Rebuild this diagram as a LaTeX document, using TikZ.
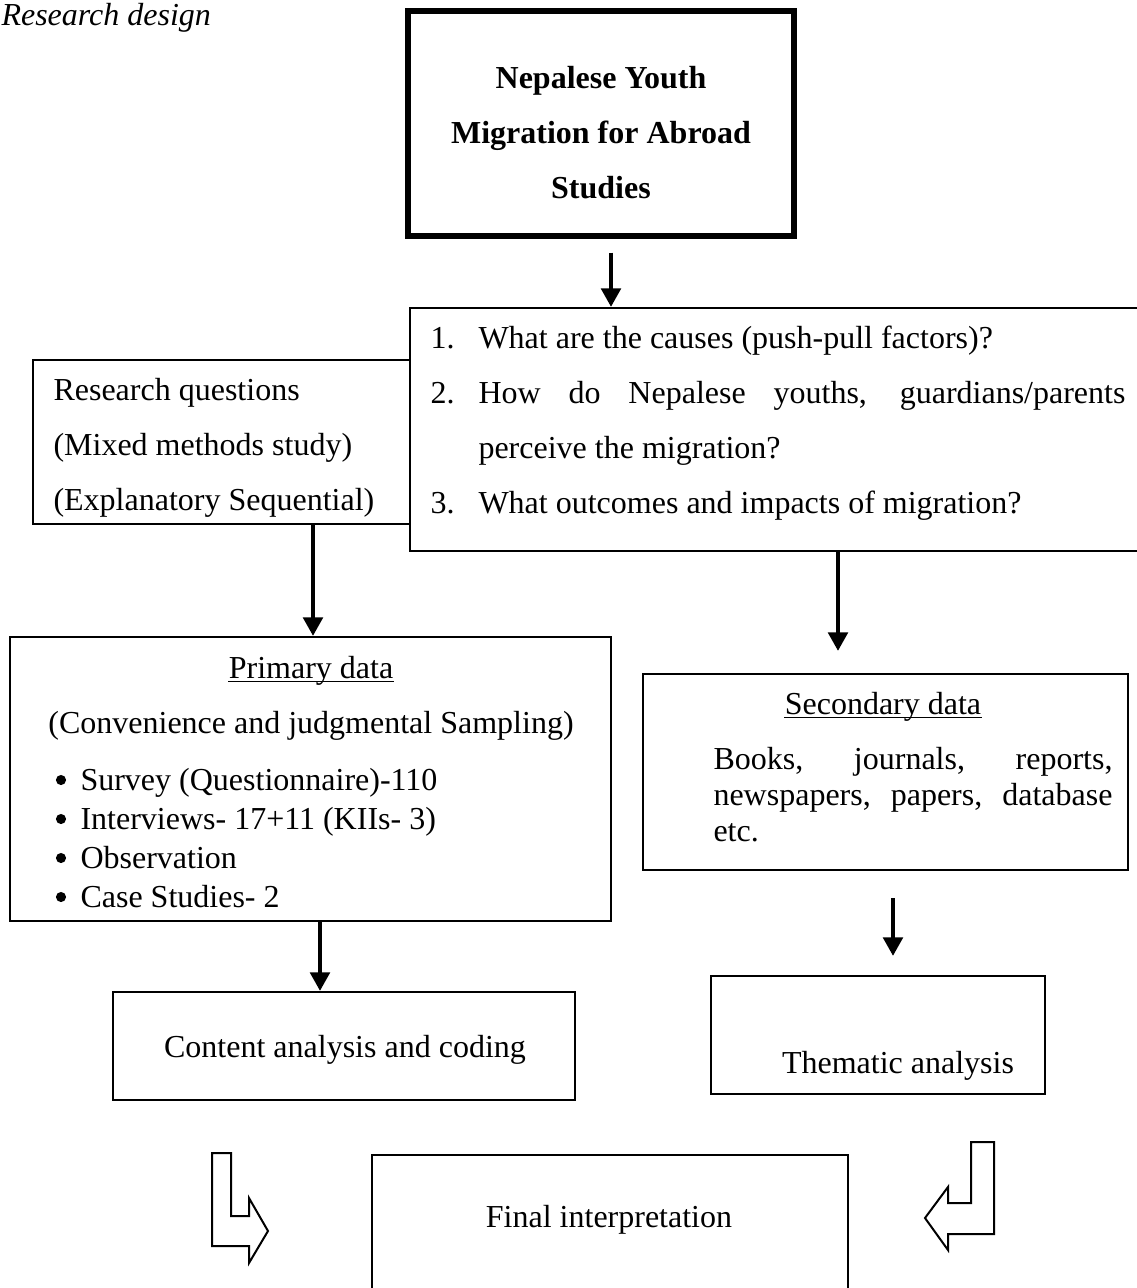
\documentclass[tikz,border=0pt]{standalone}
\usepackage{fontspec}
\setmainfont{Liberation Serif}
\usetikzlibrary{arrows.meta,calc,fit}
\begin{document}
\begin{tikzpicture}[x=0.375pt, y=-0.375pt,
  font=\fontsize{12}{14}\selectfont,
  box/.style={draw, line width=0.75pt, inner sep=0pt},
  thickbox/.style={draw, line width=2pt, inner sep=0pt},
  txt/.style={anchor=base, inner sep=0pt},
  txtl/.style={anchor=base west, inner sep=0pt},
  arr/.style={line width=1.8pt, -{Triangle[length=7pt,width=7.2pt]}},
  bentarrow/.style={draw, line width=0.75pt, fill=white, line join=miter},
  bulletdot/.style={circle, fill, inner sep=0pt, minimum size=3.8pt},
  ulline/.style={line width=0.6pt}]
\useasboundingbox (0,0) rectangle (1137,1288);

% caption
\node[txtl, font=\fontsize{12}{14}\selectfont\itshape] (cap) at (1,25) {Research design};

% boxes
\node[thickbox, fit={(408,11) (794,236)}] (top) {};
\node[box, fit={(33,360) (410,524)}] (rq) {};
\node[box, fill=white, fit={(410,308) (1150,551)}] (q) {};
\node[box, fit={(10,637) (611,921)}] (pd) {};
\node[box, fit={(643,674) (1128,870)}] (sd) {};
\node[box, fit={(113,992) (575,1100)}] (ca) {};
\node[box, fit={(711,976) (1045,1094)}] (th) {};
\node[box, fit={(372,1155) (848,1300)}] (fi) {};

% top box text
\begin{scope}[font=\fontsize{12}{14}\selectfont\bfseries]
\node[txt] (t1) at (601,88) {Nepalese Youth};
\node[txt] (t2) at (601,143) {Migration for Abroad};
\node[txt] (t3) at (601,198) {Studies};
\end{scope}

% research questions box text
\node[txtl] (rq1) at (53,400) {Research questions};
\node[txtl] (rq2) at (53,455) {(Mixed methods study)};
\node[txtl] (rq3) at (53,510) {(Explanatory Sequential)};

% questions
\node[txtl] (n1) at (430,348) {1.};
\node[txtl] (q1) at (478,348) {What are the causes (push-pull factors)?};
\node[txtl] (n2) at (430,403) {2.};
\node[txtl] (q2) at (478,403) {\makebox[647\dimexpr0.375pt\relax][s]{How do Nepalese youths, guardians/parents}};
\node[txtl] (q2b) at (478,458) {perceive the migration?};
\node[txtl] (n3) at (430,513) {3.};
\node[txtl] (q3) at (478,513) {What outcomes and impacts of migration?};

% primary data
\node[txt] (pdh) at (311,678) {Primary data};
\draw[ulline] ([yshift=-1.3pt]pdh.base west) -- ([yshift=-1.3pt]pdh.base east);
\node[txt] (pds) at (311,733) {(Convenience and judgmental Sampling)};
\node[bulletdot] (b1) at (61,780) {};
\node[txtl] (p1) at (80,790) {Survey (Questionnaire)-110};
\node[bulletdot] (b2) at (61,819) {};
\node[txtl] (p2) at (80,829) {Interviews- 17+11 (KIIs- 3)};
\node[bulletdot] (b3) at (61,858) {};
\node[txtl] (p3) at (80,868) {Observation};
\node[bulletdot] (b4) at (61,897) {};
\node[txtl] (p4) at (80,907) {Case Studies- 2};

% secondary data
\node[txt] (sdh) at (883,714) {Secondary data};
\draw[ulline] ([yshift=-1.3pt]sdh.base west) -- ([yshift=-1.3pt]sdh.base east);
\node[txtl] (s1) at (713,769) {\makebox[399\dimexpr0.375pt\relax][s]{Books, journals, reports,}};
\node[txtl] (s2) at (713,805) {\makebox[399\dimexpr0.375pt\relax][s]{newspapers, papers, database}};
\node[txtl] (s3) at (713,841) {etc.};

% analyses
\node[txt] (cat) at (345,1057) {Content analysis and coding};
\node[txt] (tht) at (898,1073) {Thematic analysis};
\node[txt] (fit) at (609,1227) {Final interpretation};

% connectors
\coordinate (x1) at (611,0);
\coordinate (x2) at (313,0);
\coordinate (x3) at (838,0);
\coordinate (x4) at (320,0);
\coordinate (x5) at (893,0);
\draw[arr] ($(top.south -| x1)+(0,14)$) -- (q.north -| x1);
\draw[arr] (rq.south -| x2) -- (pd.north -| x2);
\draw[arr] (q.south -| x3) -- ($(sd.north -| x3)+(0,-22)$);
\draw[arr] (pd.south -| x4) -- (ca.north -| x4);
\draw[arr] ($(sd.south -| x5)+(0,27)$) -- ($(th.north -| x5)+(0,-19)$);

% bent block arrows
\draw[bentarrow] (212,1153) -- (231,1153) -- (231,1216) -- (249,1216) -- (249,1198)
  -- (268,1231) -- (249,1263) -- (249,1246) -- (212,1246) -- cycle;
\draw[bentarrow] (994,1142) -- (971,1142) -- (971,1203) -- (948,1203) -- (948,1187)
  -- (925,1218) -- (948,1250) -- (948,1234) -- (994,1234) -- cycle;
\end{tikzpicture}
\end{document}
